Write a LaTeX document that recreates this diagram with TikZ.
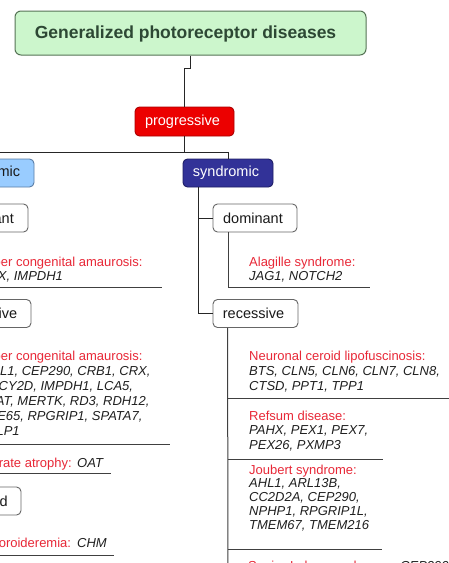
\documentclass[tikz,border=0pt]{standalone}
\usepackage{fontspec}
\setmainfont{Liberation Sans}
\definecolor{titlefill}{RGB}{204,246,204}
\definecolor{titledraw}{RGB}{85,115,85}
\definecolor{titletext}{RGB}{45,72,52}
\definecolor{progfill}{RGB}{236,0,0}
\definecolor{progdraw}{RGB}{170,0,0}
\definecolor{synfill}{RGB}{50,50,152}
\definecolor{syndraw}{RGB}{30,30,100}
\definecolor{nonfill}{RGB}{153,204,255}
\definecolor{nondraw}{RGB}{90,125,165}
\definecolor{leafred}{RGB}{232,40,55}
\begin{document}
\begin{tikzpicture}[x=1pt,y=-1pt,
  conn/.style={draw=black!85, line width=1pt},
  uline/.style={draw=black!75, line width=1pt},
  lvl/.style={draw=black!60, fill=white, rounded corners=4.5pt, line width=0.9pt, inner sep=0pt,
    minimum height=28pt, font=\fontsize{14.5}{17}\selectfont, text=black!90,
    execute at begin node={\hspace*{-4pt}}},
  topbox/.style={lvl, text=white},
  redtxt/.style={anchor=base west, inner sep=0pt, text=leafred, font=\fontsize{13}{15}\selectfont},
  gene/.style={anchor=base west, inner sep=0pt, text=black!88, font=\fontsize{13}{15}\selectfont\itshape}]
\useasboundingbox (0,0) rectangle (449,563);
\clip (0,0) rectangle (449,563);
\fill[white] (0,0) rectangle (449,563);

% title
\node[draw=titledraw, fill=titlefill, rounded corners=6pt, line width=1pt, minimum width=351pt, minimum height=44pt, inner sep=0pt] (title) at (190.5,33) {};
\node[inner sep=0pt, text=titletext, font=\fontsize{17.5}{20}\selectfont\bfseries] (titletxt) at (185.5,33.5) {Generalized photoreceptor diseases};

% level 1
\node[topbox, fill=progfill, draw=progdraw, minimum width=99pt, minimum height=29pt] (prog) at (184.5,121.5) {progressive};
\draw[conn] (title.south) -- ++(0,13) -| (prog.north);

\node[topbox, fill=synfill, draw=syndraw, minimum width=90pt] (synd) at (228,173) {syndromic};
\node[lvl, fill=nonfill, draw=nondraw, minimum width=114pt] (nons) at (-23,173) {nonsyndromic};
\draw[conn] (prog.south) -- ++(0,16) coordinate (j1);
\draw[conn] (j1) -| (synd.north);
\draw[conn] (j1) -| (nons.north);

% syndromic branch
\node[lvl, minimum width=84pt] (sdom) at (255,218) {dominant};
\node[lvl, minimum width=85pt] (srec) at (255.5,313.5) {recessive};
\draw[conn] ([xshift=16pt]synd.south west) |- (sdom.west);
\draw[conn] ([xshift=16pt]synd.south west) |- (srec.west);

\coordinate (alaE) at (370,287);
\draw[uline] ([xshift=16pt]sdom.south west) |- (alaE);
\node[redtxt] (ala1) at (249,266) {Alagille syndrome:};
\node[gene] (ala2) at (249,280) {JAG1, NOTCH2};

\coordinate (rtrunkE) at (228,575);
\draw[uline] ([xshift=15pt]srec.south west) -- (rtrunkE);
\coordinate (ncl0) at (228,398); \coordinate (nclE) at (452,398);
\coordinate (ref0) at (228,459); \coordinate (refE) at (383,459);
\coordinate (jou0) at (228,549); \coordinate (jouE) at (382,549);
\draw[uline] (ncl0) -- (nclE);
\draw[uline] (ref0) -- (refE);
\draw[uline] (jou0) -- (jouE);

\node[redtxt] (ncl1) at (249,360) {Neuronal ceroid lipofuscinosis:};
\node[gene] (ncl2) at (249,375) {BTS, CLN5, CLN6, CLN7, CLN8,};
\node[gene] (ncl3) at (249,390) {CTSD, PPT1, TPP1};

\node[redtxt] (ref1) at (249,420) {Refsum disease:};
\node[gene] (ref2) at (249,434.5) {PAHX, PEX1, PEX7,};
\node[gene] (ref3) at (249,449) {PEX26, PXMP3};

\node[redtxt] (jou1) at (249,474) {Joubert syndrome:};
\node[gene] (jou2) at (249,487.5) {AHL1, ARL13B,};
\node[gene] (jou3) at (249,501.5) {CC2D2A, CEP290,};
\node[gene] (jou4) at (249,515.5) {NPHP1, RPGRIP1L,};
\node[gene] (jou5) at (249,529.5) {TMEM67, TMEM216};

\node[redtxt] (sls1) at (248,570) {Senior-Loken syndrome:};
\node[gene] (sls2) at (400,570) {CEP290};

% nonsyndromic branch (mostly cut off on the left)
\node[lvl, minimum width=84pt] (ldom) at (-14,218) {dominant};
\node[lvl, minimum width=85pt] (lrec) at (-11.5,313.5) {recessive};
\node[lvl, minimum width=75pt] (lxl) at (-16.5,501) {X-linked};
\draw[conn] ([xshift=10pt]nons.south west) |- (ldom.west);
\draw[conn] ([xshift=10pt]nons.south west) |- (lrec.west);
\draw[conn] ([xshift=10pt]nons.south west) |- (lxl.west);

\coordinate (lcadE) at (162,287);
\draw[uline] ([xshift=16pt]ldom.south west) |- (lcadE);
\node[redtxt] (lcad1) at (-21,266) {Leber congenital amaurosis:};
\node[gene] (lcad2) at (-21,280) {CRX, IMPDH1};

\coordinate (lcarE) at (170,444);
\coordinate (gyrE) at (111,473);
\draw[uline] ([xshift=16pt]lrec.south west) |- (gyrE);
\draw[uline] ([xshift=16pt]lrec.south west |- lcarE) -- (lcarE);
\node[redtxt] (lcar1) at (-21,360) {Leber congenital amaurosis:};
\node[gene] (lcar2) at (-21,375) {AIPL1, CEP290, CRB1, CRX,};
\node[gene] (lcar3) at (-21,390) {GUCY2D, IMPDH1, LCA5,};
\node[gene] (lcar4) at (-21,405) {LRAT, MERTK, RD3, RDH12,};
\node[gene] (lcar5) at (-21,420) {RPE65, RPGRIP1, SPATA7,};
\node[gene] (lcar6) at (-21,435) {TULP1};

\node[redtxt] (gyr1) at (-18,467) {Gyrate atrophy:};
\node[gene] (gyr2) at (77,467) {OAT};

\coordinate (chmE) at (114,555);
\draw[uline] ([xshift=16pt]lxl.south west) |- (chmE);
\node[redtxt] (chm1) at (-18,547) {Choroideremia:};
\node[gene] (chm2) at (77,547) {CHM};
\end{tikzpicture}
\end{document}
